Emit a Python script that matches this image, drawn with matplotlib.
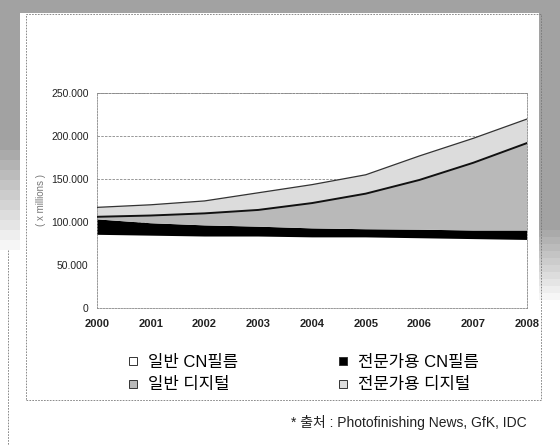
import numpy as np
import matplotlib
matplotlib.use("Agg")
from matplotlib import pyplot as plt
from matplotlib.patches import Rectangle
from matplotlib.lines import Line2D

# Latin text in an Arial-like face, Korean falls through to Noto CJK
plt.rcParams['font.family'] = ['Liberation Sans', 'Noto Sans CJK KR', 'DejaVu Sans']

# data (x millions)
years = [2000, 2001, 2002, 2003, 2004, 2005, 2006, 2007, 2008]
consumer_film = [85, 84, 83, 83, 82, 82, 81, 80, 79]
pro_film = [18, 14.5, 13, 11.5, 10.5, 9.5, 10, 10, 11]
consumer_digital = [3, 9, 14, 19.5, 29.5, 41.5, 58, 79, 102]
pro_digital = [11, 12.5, 14.5, 20, 21.5, 22, 28, 28.5, 28]

labels = ['일반 CN필름', '전문가용 CN필름', '일반 디지털', '전문가용 디지털']
colors = ['white', 'black', '#b9b9b9', '#dcdcdc']
yticks = [0, 50, 100, 150, 200, 250]
ytick_labels = ['0', '50.000', '100.000', '150.000', '200.000', '250.000']
source_text = '* 출처 : Photofinishing News, GfK, IDC'

W, H = 560, 445
fig = plt.figure(figsize=(W / 100, H / 100), dpi=100)
fig.patch.set_facecolor('white')

def fx(px):
    return px / W

def fy(py):
    return 1 - py / H

def band(x0, y0, x1, y1, alpha=1.0):
    fig.patches.append(Rectangle((fx(x0), fy(y1)), fx(x1) - fx(x0), fy(y0) - fy(y1),
                                 transform=fig.transFigure, facecolor='#a2a2a2',
                                 edgecolor='none', alpha=alpha, zorder=0))

# scanned page frame (grey bands), fading out at the lower ends
band(0, 0, 560, 13)
band(0, 13, 20, 150)
band(539, 13, 560, 230)
for i in range(10):
    a = 1 - (i + 1) / 11
    band(0, 150 + i * 10, 20, 160 + i * 10, a)
    band(539, 230 + i * 7, 560, 237 + i * 7, a)

# dashed box around the figure
fig.patches.append(Rectangle((fx(26), fy(400)), fx(541) - fx(26), fy(14) - fy(400),
                             transform=fig.transFigure, facecolor='none', edgecolor='#777777',
                             linestyle=(0, (2, 1.5)), linewidth=0.6, zorder=1))
fig.lines.append(Line2D([fx(8), fx(8)], [fy(250), 0], transform=fig.transFigure,
                        color='#777777', linestyle=(0, (2, 1.5)), linewidth=0.6))

ax = fig.add_axes([fx(97), fy(307.7), fx(527) - fx(97), fy(93.3) - fy(307.7)])
ax.set_facecolor('white')

y = np.array(years)
b1 = np.array(consumer_film)
b2 = b1 + np.array(pro_film)
b3 = b2 + np.array(consumer_digital)
b4 = b3 + np.array(pro_digital)

ax.fill_between(y, 0, b1, facecolor=colors[0], edgecolor='none', zorder=2)
ax.fill_between(y, b1, b2, facecolor=colors[1], edgecolor='none', zorder=2)
ax.fill_between(y, b2, b3, facecolor=colors[2], edgecolor='none', zorder=2)
ax.fill_between(y, b3, b4, facecolor=colors[3], edgecolor='none', zorder=2)
ax.plot(y, b3, color='#111111', linewidth=1.4, zorder=3)
ax.plot(y, b4, color='#333333', linewidth=0.9, zorder=3)

ax.set_xlim(2000, 2008)
ax.set_ylim(0, 250)
ax.set_yticks(yticks)
ax.set_yticklabels(ytick_labels, fontsize=7.5)
ax.set_xticks(years)
ax.set_xticklabels([str(v) for v in years], fontsize=8, fontweight='bold')
ax.tick_params(axis='both', length=0, pad=6, colors='#222222')
ax.tick_params(axis='x', pad=8)
for v in yticks[1:]:
    ax.axhline(v, color='#888888', linewidth=0.6, linestyle=(0, (3, 1.5)), zorder=1)
for s in ax.spines.values():
    s.set_color('#888888')
    s.set_linewidth(0.6)
    s.set_linestyle((0, (2, 1.5)))
ax.set_ylabel('( x millions )', fontsize=7, color='#777777', labelpad=4)

# legend: small square markers, two columns
proxies = [Line2D([], [], linestyle='none', marker='s', markersize=6,
                  markerfacecolor=c, markeredgecolor='#333333', markeredgewidth=0.7)
           for c in colors]
order = [0, 2, 1, 3]
leg = fig.legend([proxies[i] for i in order], [labels[i] for i in order], ncol=2,
                 loc='upper left', bbox_to_anchor=(fx(113), fy(340)),
                 frameon=False, fontsize=12, handlelength=0.6,
                 handletextpad=0.6, columnspacing=6.0, labelspacing=0.45)

fig.text(fx(527), fy(423), source_text, ha='right', va='center', fontsize=10, color='#222222')

fig.savefig('out.png', dpi=100)
